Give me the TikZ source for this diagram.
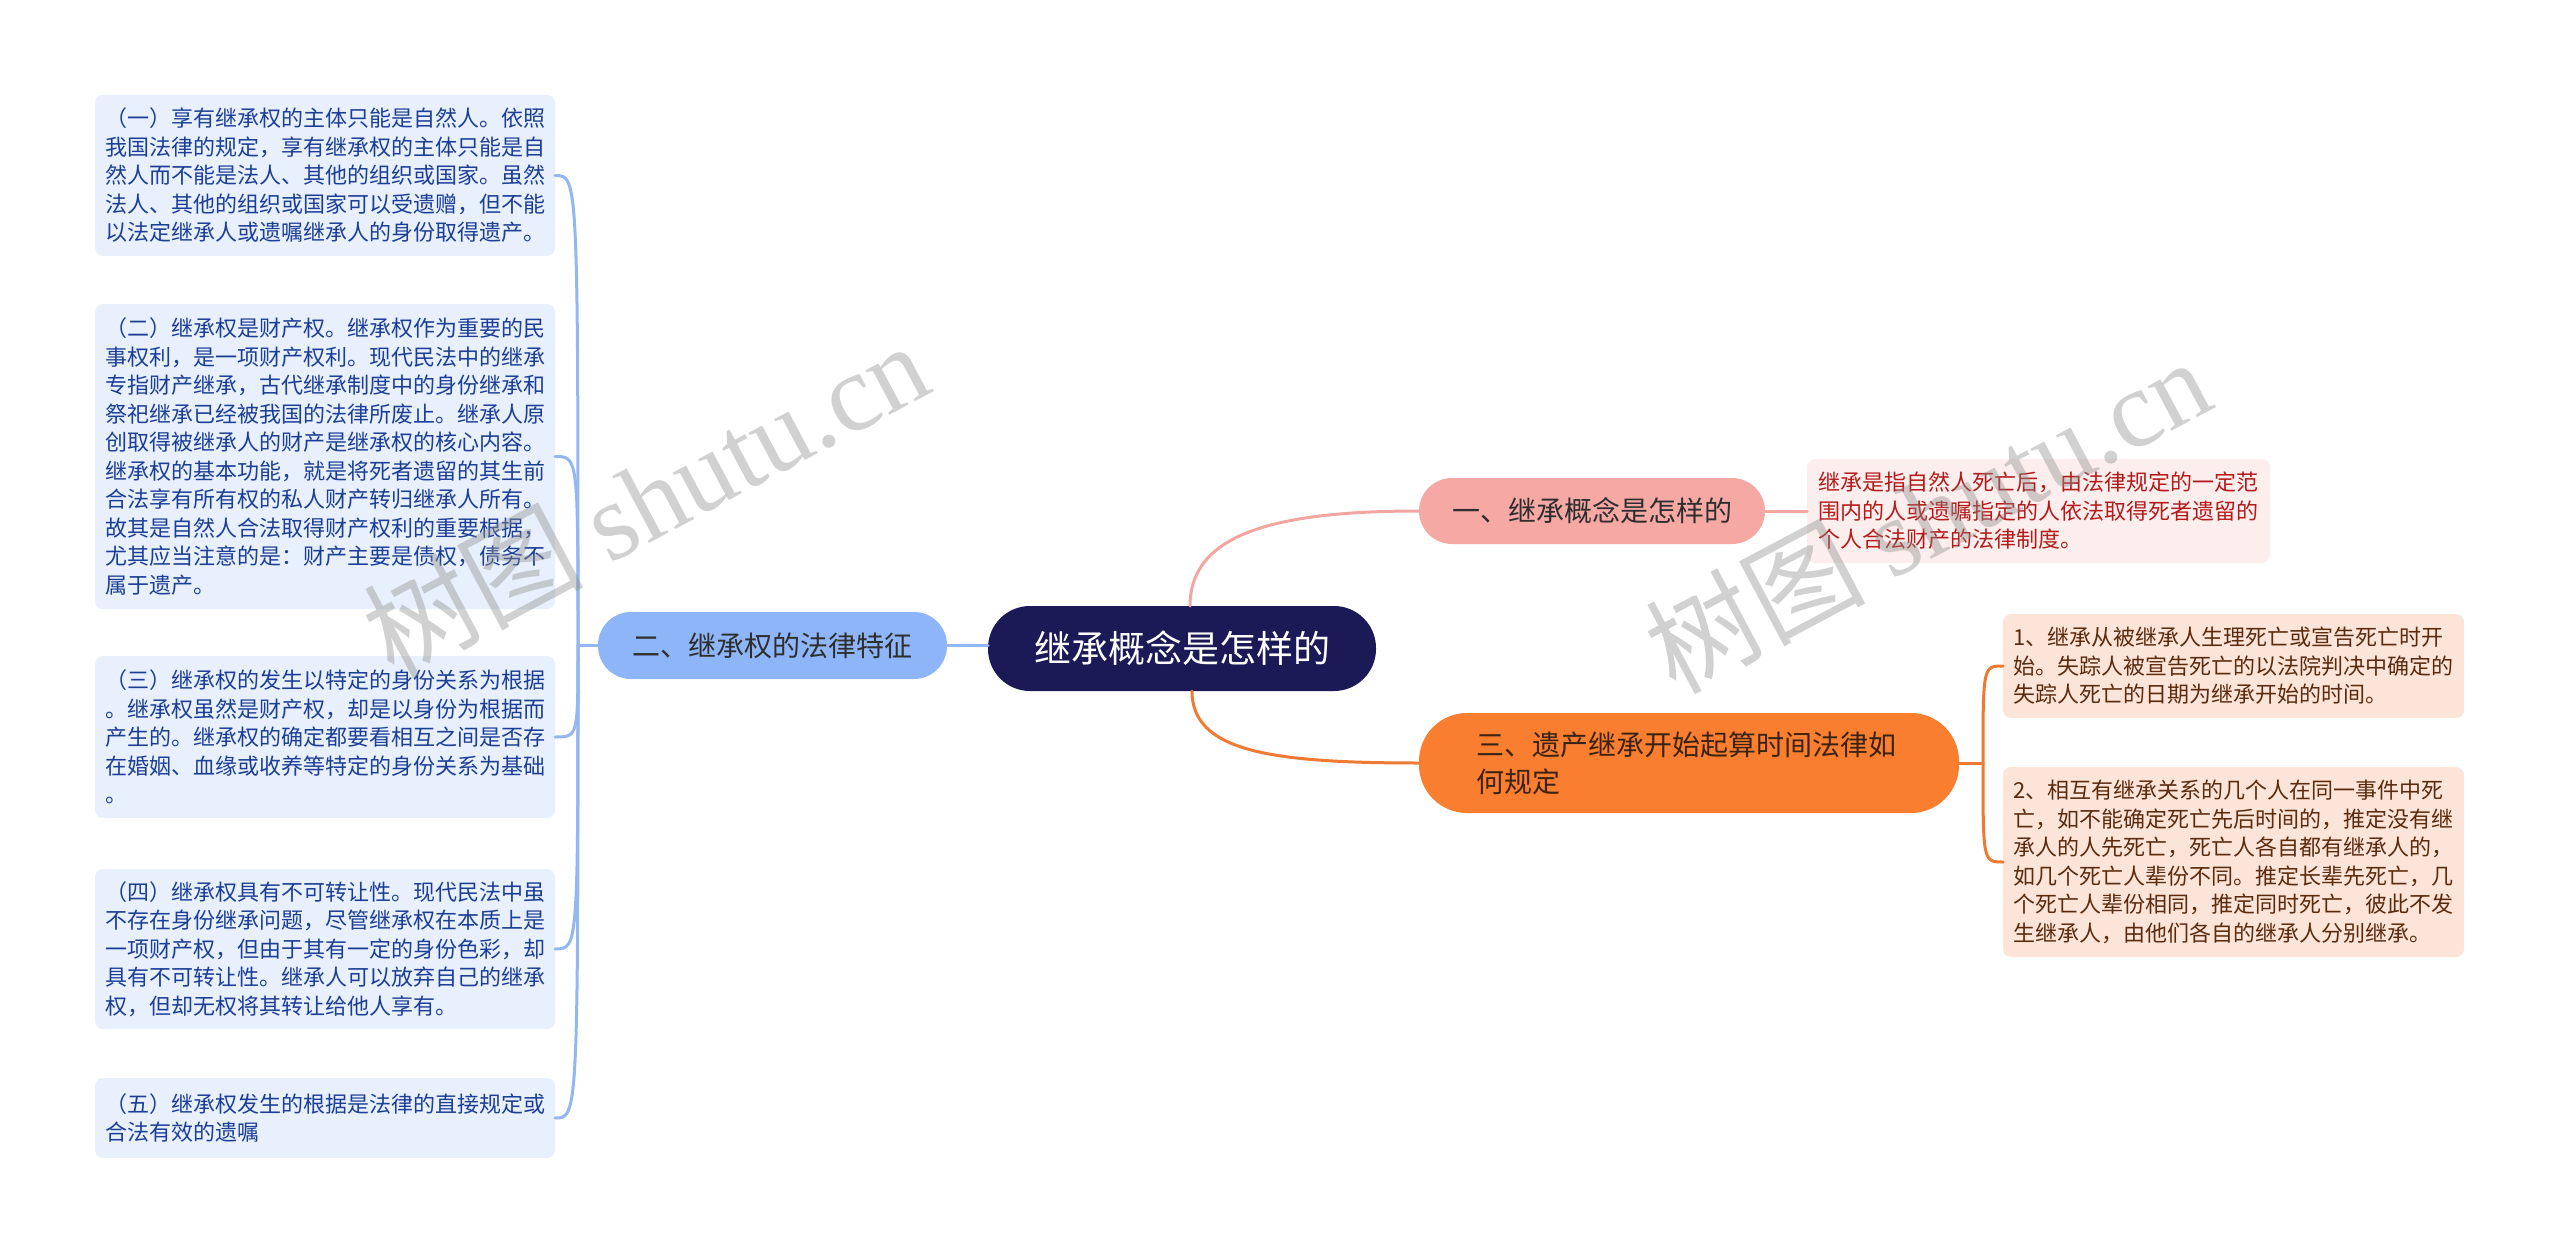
\documentclass[tikz,border=0pt]{standalone}
\usepackage{fontspec}
\setmainfont{Noto Sans CJK SC}
\newfontfamily\wmlatin{Liberation Serif}
\definecolor{navy}{HTML}{1B1A57}
\definecolor{bluefill}{HTML}{8DB5F7}
\definecolor{blueline}{HTML}{93B7F0}
\definecolor{pinkfill}{HTML}{F6A9A4}
\definecolor{pinkline}{HTML}{F2A6A2}
\definecolor{orangefill}{HTML}{F97E30}
\definecolor{orangeline}{HTML}{EE7A33}
\definecolor{leafblue}{HTML}{E8F0FD}
\definecolor{leafbluetext}{HTML}{1D3E95}
\definecolor{leafpink}{HTML}{FDEEEE}
\definecolor{leafpinktext}{HTML}{B31B1B}
\definecolor{leaforange}{HTML}{FCE4D8}
\definecolor{leaforangetext}{HTML}{5B2B0F}
\definecolor{maintext}{HTML}{2E2E2E}
\definecolor{browntext}{HTML}{3B2312}
\begin{document}
\begin{tikzpicture}[x=1pt,y=-1pt,
  every node/.style={inner sep=0pt, outer sep=0pt},
  leafbox/.style={rounded corners=8pt, anchor=north west, minimum width=460pt, text width=440pt, inner xsep=10pt, align=left, font=\fontsize{22}{28.5}\selectfont},
  mainbox/.style={align=center, font=\fontsize{28}{37}\selectfont, text=maintext},
  conn/.style={line width=3pt, line cap=round}
]
\useasboundingbox[fill=white] (0,0) rectangle (2560,1252);

% central and main branches
\node[fill=navy, text=white, rounded corners=42pt, minimum width=388pt, minimum height=85pt, font=\fontsize{37}{44}\selectfont] (c) at (1182,648.5) {继承概念是怎样的};
\node[mainbox, fill=bluefill, rounded corners=33pt, minimum width=349pt, minimum height=67pt] (b2) at (772.5,645.5) {二、继承权的法律特征};
\node[mainbox, fill=pinkfill, rounded corners=33pt, minimum width=346pt, minimum height=66pt] (b1) at (1592,511) {一、继承概念是怎样的};
\node[mainbox, fill=orangefill, text=browntext, rounded corners=48pt, minimum width=540pt, minimum height=100pt, text width=425pt, align=left] (b3) at (1689,763) {三、遗产继承开始起算时间法律如\\何规定};

% left leaves
\node[leafbox, fill=leafblue, text=leafbluetext, minimum height=161pt] (l1) at (95,95) {（一）享有继承权的主体只能是自然人。依照\\我国法律的规定，享有继承权的主体只能是自\\然人而不能是法人、其他的组织或国家。虽然\\法人、其他的组织或国家可以受遗赠，但不能\\以法定继承人或遗嘱继承人的身份取得遗产。};
\node[leafbox, fill=leafblue, text=leafbluetext, minimum height=305pt] (l2) at (95,304) {（二）继承权是财产权。继承权作为重要的民\\事权利，是一项财产权利。现代民法中的继承\\专指财产继承，古代继承制度中的身份继承和\\祭祀继承已经被我国的法律所废止。继承人原\\创取得被继承人的财产是继承权的核心内容。\\继承权的基本功能，就是将死者遗留的其生前\\合法享有所有权的私人财产转归继承人所有。\\故其是自然人合法取得财产权利的重要根据，\\尤其应当注意的是：财产主要是债权，债务不\\属于遗产。};
\node[leafbox, fill=leafblue, text=leafbluetext, minimum height=162pt] (l3) at (95,656) {（三）继承权的发生以特定的身份关系为根据\\。继承权虽然是财产权，却是以身份为根据而\\产生的。继承权的确定都要看相互之间是否存\\在婚姻、血缘或收养等特定的身份关系为基础\\。};
\node[leafbox, fill=leafblue, text=leafbluetext, minimum height=160pt] (l4) at (95,869) {（四）继承权具有不可转让性。现代民法中虽\\不存在身份继承问题，尽管继承权在本质上是\\一项财产权，但由于其有一定的身份色彩，却\\具有不可转让性。继承人可以放弃自己的继承\\权，但却无权将其转让给他人享有。};
\node[leafbox, fill=leafblue, text=leafbluetext, minimum height=80pt] (l5) at (95,1078) {（五）继承权发生的根据是法律的直接规定或\\合法有效的遗嘱};

% right leaves
\node[leafbox, fill=leafpink, text=leafpinktext, minimum width=463pt, minimum height=104pt] (p1) at (1807,459) {继承是指自然人死亡后，由法律规定的一定范\\围内的人或遗嘱指定的人依法取得死者遗留的\\个人合法财产的法律制度。};
\node[leafbox, fill=leaforange, text=leaforangetext, minimum width=461pt, minimum height=104pt] (r1) at (2003,614) {1、继承从被继承人生理死亡或宣告死亡时开\\始。失踪人被宣告死亡的以法院判决中确定的\\失踪人死亡的日期为继承开始的时间。};
\node[leafbox, fill=leaforange, text=leaforangetext, minimum width=461pt, minimum height=190pt] (r2) at (2003,767) {2、相互有继承关系的几个人在同一事件中死\\亡，如不能确定死亡先后时间的，推定没有继\\承人的人先死亡，死亡人各自都有继承人的，\\如几个死亡人辈份不同。推定长辈先死亡，几\\个死亡人辈份相同，推定同时死亡，彼此不发\\生继承人，由他们各自的继承人分别继承。};

% connectors
\begin{scope}[on background layer/.try]
\end{scope}
\draw[conn, blueline] (b2.east) -- (b2.east -| c.west);
\draw[conn, pinkline] ([xshift=8pt]c.north) .. controls +(0,-70) and +(-150,0) .. (b1.west);
\draw[conn, orangeline] ([xshift=10pt]c.south) .. controls +(0,60) and +(-150,0) .. (b3.west);
\draw[conn, pinkline] (b1.east) -- (p1.west);

\coordinate (lj) at (578,645.5);
\draw[conn, blueline] (b2.west) -- (lj);
\foreach \n in {l1,l2,l3,l4,l5}{
  \draw[conn, blueline] (lj) .. controls (lj |- \n.east) and (lj |- \n.east) .. (\n.east);
}
\coordinate (rj) at (1983,763);
\draw[conn, orangeline] (b3.east) -- (rj);
\foreach \n in {r1,r2}{
  \draw[conn, orangeline] (rj) .. controls (rj |- \n.west) and (rj |- \n.west) .. (\n.west);
}

% watermarks
\node[rotate=28, text=black!45, opacity=0.4, font=\fontsize{110}{120}\selectfont] (wm1) at (645,498) {树图 {\wmlatin shutu.cn}};
\node[rotate=28, text=black!45, opacity=0.4, font=\fontsize{110}{120}\selectfont] (wm2) at (1927,514) {树图 {\wmlatin shutu.cn}};
\end{tikzpicture}
\end{document}
